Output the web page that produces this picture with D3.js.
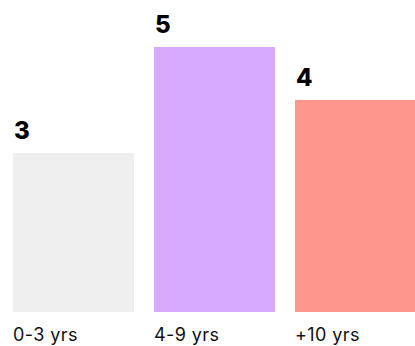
<!DOCTYPE html>
<html>
<head>
<meta charset="utf-8">
<script src="https://cdn.jsdelivr.net/npm/d3@7"></script>
<style>
  html, body { margin: 0; padding: 0; background: #fff; }
  text { font-family: Inter, "Noto Sans", sans-serif; }
</style>
</head>
<body>
<div id="chart"></div>
<script>
var categories = ["0-3 yrs", "4-9 yrs", "+10 yrs"];
var values = [3, 5, 4];
var colors = ["#efefef", "#d8aaff", "#ff958c"];

var width = 415, height = 346;
var margin = {top: 47, right: -1, bottom: 34, left: 13};

var svg = d3.select("#chart").append("svg")
	.attr("width", width)
	.attr("height", height);

var x = d3.scaleBand()
	.domain(categories)
	.range([margin.left, width - margin.right])
	.paddingInner(20 / 141)
	.paddingOuter(0);

var y = d3.scaleLinear()
	.domain([0, 5])
	.range([height - margin.bottom, margin.top]);

svg.append("g")
	.selectAll("rect")
	.data(values)
	.enter()
	.append("rect")
		.attr("x", function(d, i) { return x(categories[i]); })
		.attr("y", function(d) { return y(d); })
		.attr("width", x.bandwidth())
		.attr("height", function(d) { return y(0) - y(d); })
		.attr("fill", function(d, i) { return colors[i]; });

// value labels above each bar
svg.append("g")
	.selectAll("text")
	.data(values)
	.enter()
	.append("text")
		.text(function(d) { return d; })
		.attr("x", function(d, i) { return x(categories[i]) + 1; })
		.attr("y", function(d) { return y(d) - 14; })
		.attr("font-size", 24)
		.attr("font-weight", 800)
		.attr("fill", "#000");

// category labels under bars
svg.append("g")
	.selectAll("text")
	.data(categories)
	.enter()
	.append("text")
		.text(function(d) { return d; })
		.attr("x", function(d) { return x(d); })
		.attr("y", 341)
		.attr("font-size", 18)
		.attr("letter-spacing", 0.4)
		.attr("fill", "#111");
</script>
</body>
</html>
